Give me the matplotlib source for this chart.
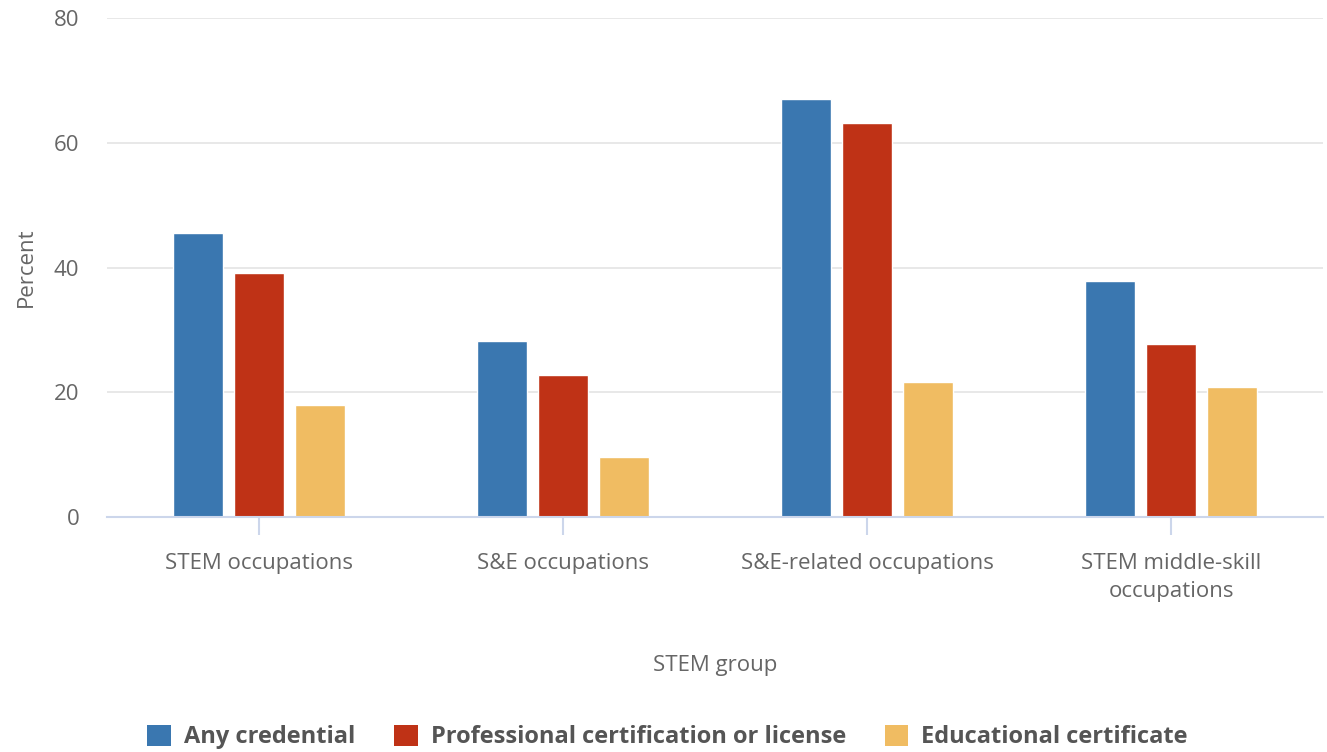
import numpy as np
import matplotlib.pyplot as plt
from matplotlib.patches import Patch

plt.rcParams['font.family'] = ['Open Sans', 'DejaVu Sans']

categories = ["STEM occupations", "S&E occupations", "S&E-related occupations",
              "STEM middle-skill\noccupations"]
series_names = ["Any credential", "Professional certification or license",
                "Educational certificate"]
any_credential = [45.5, 28.2, 67.0, 37.8]
professional = [39.1, 22.7, 63.1, 27.8]
educational = [17.9, 9.6, 21.7, 20.8]
colors = ["#3a77b0", "#bf3216", "#f0bc62"]

fig = plt.figure(figsize=(13.27, 7.52), dpi=100)
ax = fig.add_axes([107 / 1327, 1 - 517 / 752, 1216 / 1327, 499 / 752])

x = np.arange(len(categories))
width = 0.165
offset = 0.2
for i, (vals, c) in enumerate(zip([any_credential, professional, educational], colors)):
    ax.bar(x + (i - 1) * offset, vals, width, color=c, edgecolor='white',
           linewidth=1.0, zorder=3)

ax.set_xlim(-0.5, len(categories) - 0.5)
ax.set_ylim(0, 80)
ax.set_yticks([0, 20, 40, 60, 80])
ax.grid(axis='y', color='#e6e6e6', linewidth=1.3, zorder=0)
ax.set_xticks(x)
ax.set_xticklabels(categories, fontsize=16, color='#666666', linespacing=1.45)
ax.tick_params(axis='x', length=13, width=1.5, color='#ccd6eb', pad=13)
ax.tick_params(axis='y', length=0, labelsize=16, labelcolor='#666666', pad=20)
for s in ['top', 'right', 'left']:
    ax.spines[s].set_visible(False)
ax.spines['bottom'].set_color('#ccd6eb')
ax.spines['bottom'].set_linewidth(1.5)
ax.spines['bottom'].set_zorder(4)

ax.set_ylabel("Percent", fontsize=16, color='#666666', labelpad=12)
ax.set_xlabel("STEM group", fontsize=16, color='#666666', labelpad=38)

handles = [Patch(facecolor=c, label=n) for c, n in zip(colors, series_names)]
fig.legend(handles=handles, loc='center', bbox_to_anchor=(0.503, 1 - 737 / 752),
           ncol=3, frameon=False, handlelength=1.0, handleheight=1.0,
           columnspacing=1.65, handletextpad=0.55,
           prop={'size': 17, 'weight': 'bold'}, labelcolor='#555555')

fig.savefig("out.png", dpi=100)
